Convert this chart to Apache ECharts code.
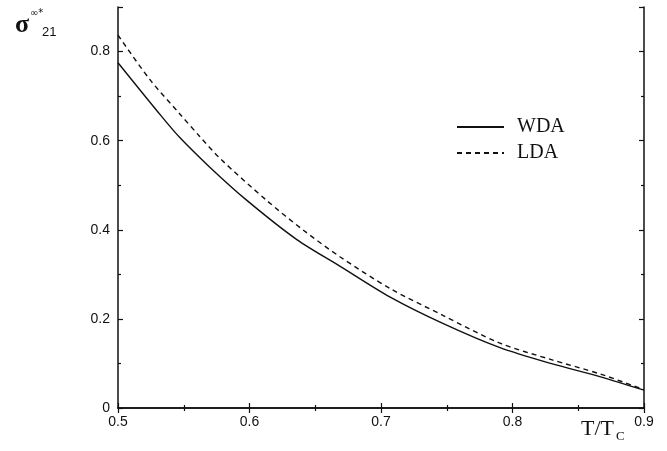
<!DOCTYPE html>
<html>
<head>
<meta charset="utf-8">
<script src="https://cdn.jsdelivr.net/npm/echarts@6/dist/echarts.min.js"></script>
<style>
  html, body { margin: 0; padding: 0; background: #fff; }
  #chart { width: 667px; height: 451px; }
</style>
</head>
<body>
<div id="chart"></div>
<script>
// values
const wdaT = [0.5, 0.533, 0.547, 0.570, 0.598, 0.636, 0.669, 0.707, 0.747, 0.790, 0.829, 0.867, 0.9]
const wdaSigma = [0.775, 0.655, 0.607, 0.540, 0.466, 0.378, 0.318, 0.249, 0.190, 0.136, 0.100, 0.070, 0.040]
const ldaT = [0.5, 0.524, 0.547, 0.562, 0.578, 0.613, 0.641, 0.669, 0.707, 0.747, 0.790, 0.829, 0.867, 0.9]
const ldaSigma = [0.837, 0.738, 0.660, 0.610, 0.559, 0.466, 0.399, 0.339, 0.268, 0.208, 0.146, 0.109, 0.076, 0.041]

const zip = (xs, ys) => xs.map((x, i) => [x, ys[i]])

const myChart = echarts.init(document.getElementById('chart'))

const labelFont = { fontFamily: 'Liberation Sans, Arial, sans-serif', fontSize: 14, color: '#111' }
const boxLine = { show: true, lineStyle: { color: '#111', width: 1.5 } }
const tickIn = { show: true, inside: true, length: 5, lineStyle: { color: '#111', width: 1.2 } }
const minorIn = { show: true, splitNumber: 2, length: 3, lineStyle: { color: '#111', width: 1.2 } }

const option = {
  animation: false,
  grid: { left: 118, right: 23, top: 7, bottom: 43 },
  legend: {
    orient: 'vertical',
    left: 451,
    top: 112,
    itemWidth: 47,
    itemHeight: 20,
    itemGap: 6,
    itemStyle: { opacity: 0 },
    textStyle: {
      fontFamily: 'Liberation Serif, Times New Roman, serif',
      fontSize: 20,
      color: '#111',
      padding: [0, 0, 0, 8]
    },
    data: ['WDA', 'LDA']
  },
  xAxis: [
    {
      type: 'value', min: 0.5, max: 0.9, interval: 0.1,
      axisLine: boxLine, axisTick: tickIn, minorTick: minorIn,
      splitLine: { show: false },
      axisLabel: Object.assign({ margin: 7, formatter: v => v.toFixed(1) }, labelFont)
    },
    {
      type: 'value', position: 'top', min: 0.5, max: 0.9, interval: 0.1,
      axisLine: boxLine, axisTick: tickIn, minorTick: minorIn,
      splitLine: { show: false }, axisLabel: { show: false }
    }
  ],
  yAxis: [
    {
      type: 'value', min: 0, max: 0.9, interval: 0.2,
      axisLine: boxLine, axisTick: tickIn, minorTick: minorIn,
      splitLine: { show: false },
      axisLabel: Object.assign({
        margin: 8, showMaxLabel: false,
        formatter: v => (v === 0 ? '0' : v.toFixed(1))
      }, labelFont)
    },
    {
      type: 'value', position: 'right', min: 0, max: 0.9, interval: 0.2,
      axisLine: boxLine, axisTick: tickIn, minorTick: minorIn,
      splitLine: { show: false }, axisLabel: { show: false }
    }
  ],
  series: [
    {
      name: 'WDA',
      type: 'line',
      data: zip(wdaT, wdaSigma),
      symbol: 'none',
      smooth: 0.3,
      lineStyle: { color: '#111', width: 1.4, type: 'solid' },
      itemStyle: { color: '#111' }
    },
    {
      name: 'LDA',
      type: 'line',
      data: zip(ldaT, ldaSigma),
      symbol: 'none',
      smooth: 0.3,
      lineStyle: { color: '#111', width: 1.4, type: [5, 4] },
      itemStyle: { color: '#111' }
    }
  ],
  graphic: [
    // y axis title: sigma with superscript and subscript
    {
      type: 'text', left: 15, top: 12,
      style: { text: 'σ', font: 'bold 26px Liberation Serif, serif', fill: '#111' }
    },
    {
      type: 'text', left: 30, top: 8,
      style: { text: '∞*', font: '10px DejaVu Sans, sans-serif', fill: '#111' }
    },
    {
      type: 'text', left: 42, top: 26,
      style: { text: '21', font: '13px Liberation Sans, Arial, sans-serif', fill: '#111' }
    },
    // x axis title T/T_C
    {
      type: 'text', left: 581, top: 418,
      style: { text: 'T/T', font: '22px Liberation Serif, serif', fill: '#111' }
    },
    {
      type: 'text', left: 616, top: 430,
      style: { text: 'C', font: '13px Liberation Serif, serif', fill: '#111' }
    }
  ]
}

myChart.setOption(option)
window.addEventListener('resize', function () {
  myChart.resize()
})
</script>
</body>
</html>
